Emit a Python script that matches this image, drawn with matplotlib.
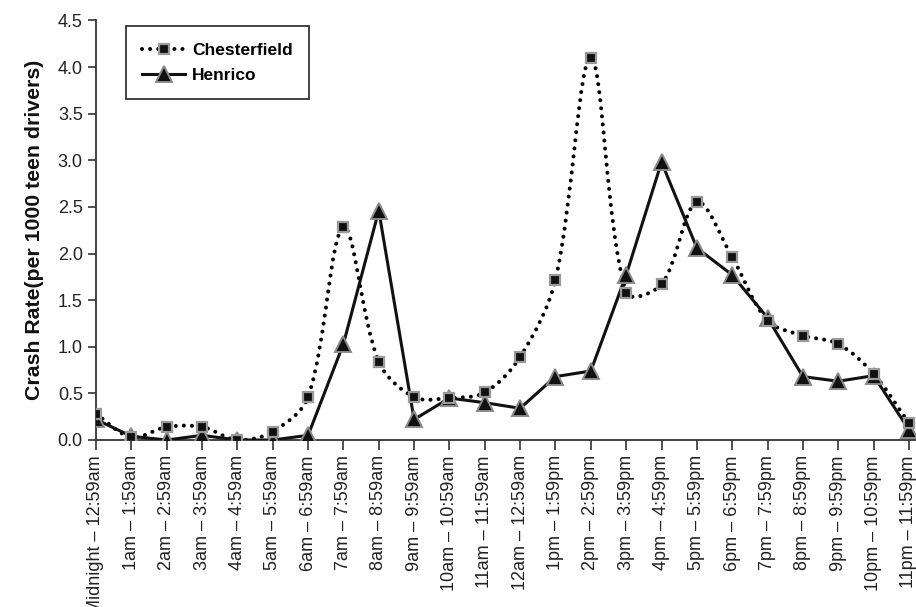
import matplotlib
matplotlib.use("Agg")
import matplotlib.pyplot as plt
import numpy as np
from matplotlib.path import Path
from matplotlib.patches import PathPatch
from matplotlib.lines import Line2D

plt.rcParams['font.family'] = ['Liberation Sans', 'DejaVu Sans']

hours = ["Midnight \u2013 12:59am", "1am \u2013 1:59am", "2am \u2013 2:59am", "3am \u2013 3:59am",
         "4am \u2013 4:59am", "5am \u2013 5:59am", "6am \u2013 6:59am", "7am \u2013 7:59am",
         "8am \u2013 8:59am", "9am \u2013 9:59am", "10am \u2013 10:59am", "11am \u2013 11:59am",
         "12am \u2013 12:59am", "1pm \u2013 1:59pm", "2pm \u2013 2:59pm", "3pm \u2013 3:59pm",
         "4pm \u2013 4:59pm", "5pm \u2013 5:59pm", "6pm \u2013 6:59pm", "7pm \u2013 7:59pm",
         "8pm \u2013 8:59pm", "9pm \u2013 9:59pm", "10pm \u2013 10:59pm", "11pm \u2013 11:59pm"]

chesterfield = [0.28, 0.03, 0.14, 0.14, 0.0, 0.09, 0.46, 2.28, 0.84, 0.46, 0.45, 0.51,
                0.89, 1.72, 4.10, 1.58, 1.67, 2.55, 1.96, 1.28, 1.12, 1.03, 0.71, 0.18]
henrico = [0.22, 0.04, 0.0, 0.05, 0.0, 0.0, 0.05, 1.03, 2.46, 0.22, 0.45, 0.40,
           0.34, 0.68, 0.74, 1.77, 2.98, 2.06, 1.77, 1.31, 0.68, 0.63, 0.69, 0.11]

x = np.arange(len(hours))


def smooth_path(xs, ys, sx=35.35, sy=93.25, f=1.0 / 3):
    # bezier smoothing, tangents weighted by on-screen segment lengths
    pts = np.column_stack([xs, ys]).astype(float)
    scr = pts * [sx, sy]
    n = len(pts)
    out_cp = []
    in_cp = []
    for i in range(n):
        prev = scr[i - 1] if i > 0 else scr[i]
        nxt = scr[i + 1] if i < n - 1 else scr[i]
        t = nxt - prev
        dp = np.hypot(*(scr[i] - prev))
        dn = np.hypot(*(nxt - scr[i]))
        tot = dp + dn if dp + dn > 0 else 1.0
        out_cp.append((scr[i] + t * f * dn / tot) / [sx, sy])
        in_cp.append((scr[i] - t * f * dp / tot) / [sx, sy])
    verts = [pts[0]]
    codes = [Path.MOVETO]
    for i in range(n - 1):
        verts += [out_cp[i], in_cp[i + 1], pts[i + 1]]
        codes += [Path.CURVE4] * 3
    return Path(verts, codes)


fig = plt.figure(figsize=(9.16, 6.07), dpi=100)
ax = fig.add_axes([96 / 916, 167 / 607, 820 / 916, 419.6 / 607])

dot_style = (0, (0.01, 2.0))
patch = PathPatch(smooth_path(x, chesterfield), fill=False, edgecolor='black',
                  linewidth=2.9, linestyle=dot_style, capstyle='round', zorder=2)
ax.add_patch(patch)
ax.plot(x, chesterfield, linestyle='none', marker='s', markersize=7,
        markerfacecolor='#111111', markeredgecolor='#9a9a9a', markeredgewidth=1.6, zorder=4)

ax.plot(x, henrico, color='#111111', linewidth=2.2, marker='^', markersize=11,
        markerfacecolor='#111111', markeredgecolor='#8a8a8a', markeredgewidth=1.4, zorder=3)

ax.set_xlim(0, 23.2)
ax.set_ylim(0, 4.5)
ax.set_yticks(np.arange(0, 4.51, 0.5))
ax.set_yticklabels(["%.1f" % v for v in np.arange(0, 4.51, 0.5)])
ax.set_xticks(x)
ax.set_xticklabels(hours, rotation=90, fontsize=13, color='#222222')
ax.tick_params(axis='y', labelsize=13, labelcolor='#222222', length=6, width=1.2, color='#333333')
ax.tick_params(axis='x', length=7, width=1.2, color='#333333', pad=4)

for s in ['top', 'right']:
    ax.spines[s].set_visible(False)
for s in ['left', 'bottom']:
    ax.spines[s].set_color('#333333')
    ax.spines[s].set_linewidth(1.3)

ax.set_ylabel("Crash Rate(per 1000 teen drivers)", fontsize=15.3, fontweight='bold',
              color='#111111', labelpad=10)

handles = [
    Line2D([], [], color='black', linewidth=2.9, linestyle=dot_style, dash_capstyle='round',
           marker='s', markersize=7, markerfacecolor='#111111', markeredgecolor='#9a9a9a',
           markeredgewidth=1.6),
    Line2D([], [], color='#111111', linewidth=2.2, marker='^', markersize=11,
           markerfacecolor='#111111', markeredgecolor='#8a8a8a', markeredgewidth=1.4),
]
leg = ax.legend(handles, ["Chesterfield", "Henrico"], loc='upper left',
                bbox_to_anchor=(0.036, 0.986), borderaxespad=0, fancybox=False,
                framealpha=1, edgecolor='#222222', handlelength=2.5, handletextpad=0.4,
                prop={'weight': 'bold', 'size': 12.5},
                borderpad=0.95, labelspacing=0.55)
leg.get_frame().set_linewidth(1.2)

fig.savefig("out.png", dpi=100)
